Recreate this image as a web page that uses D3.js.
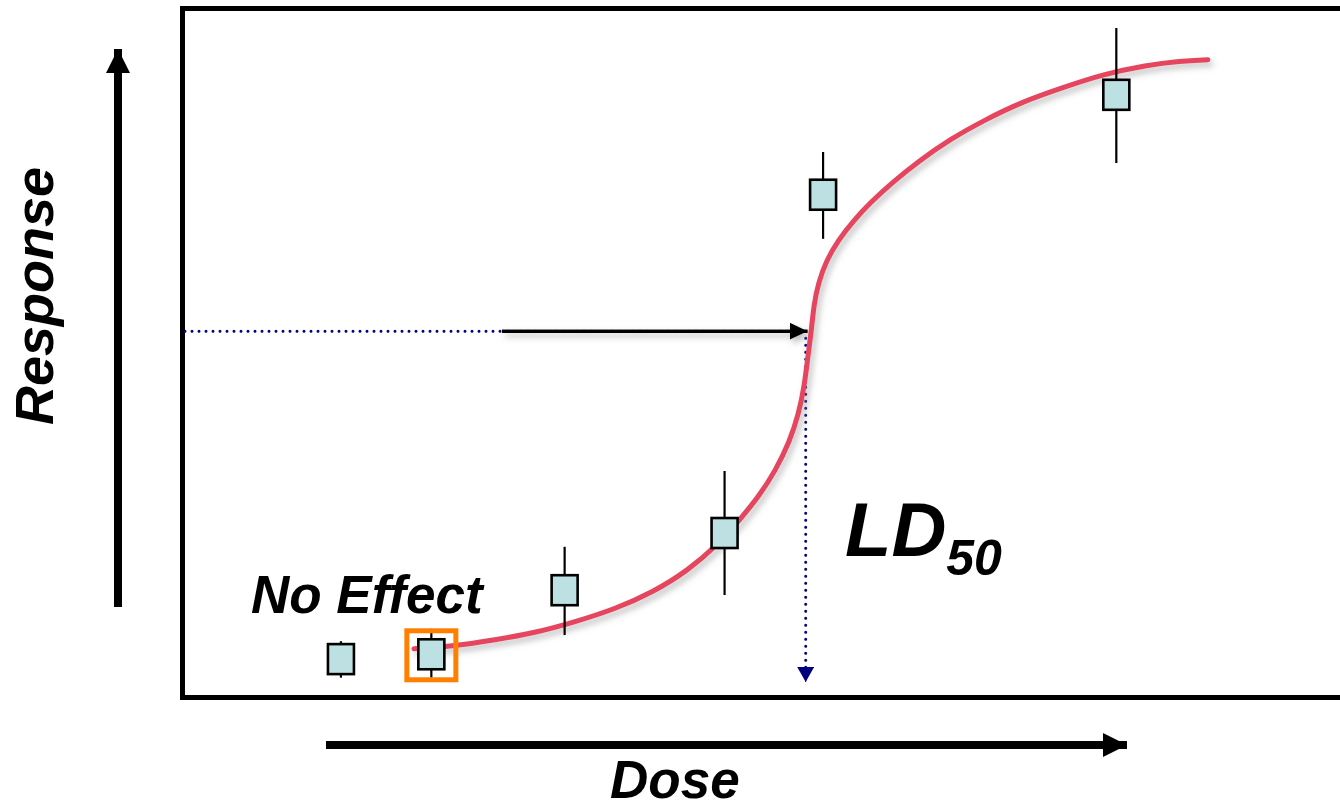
<!DOCTYPE html>
<html>
<head>
<meta charset="utf-8">
<script src="https://cdn.jsdelivr.net/npm/d3@7"></script>
<style>
  html, body { margin: 0; padding: 0; background: #ffffff; }
  svg { display: block; }
  text { font-family: "Liberation Sans", Arial, Helvetica, sans-serif; font-weight: bold; font-style: italic; fill: #000; }
</style>
</head>
<body>
<svg id="chart" width="1340" height="807"></svg>
<script>
// ---- data (dose and response in arbitrary % units) ----
const doseVals     = [13.8, 21.6, 33.1, 46.9, 55.4, 80.7];
const responseVals = [5.5, 6.2, 15.5, 23.8, 72.9, 87.4];
const errHigh      = [8.1, 9.9, 21.8, 32.8, 79.1, 97.1];
const errLow       = [2.8, 2.8, 9.0, 14.8, 66.5, 77.5];

const curveDose = [20.1, 23.6, 27.1, 30.5, 34.0, 37.5, 40.7, 43.7, 46.3, 48.2, 49.9, 51.3, 52.5, 53.3, 53.8, 54.1, 54.4, 54.6, 55.0, 55.7, 56.7, 58.0, 59.5, 61.4, 63.6, 66.4, 69.4, 72.6, 76.0, 79.6, 83.3, 86.2, 88.6];
const curveResp = [7.0, 7.4, 8.3, 9.3, 10.9, 12.8, 15.2, 18.3, 22.1, 25.7, 29.2, 32.9, 37.0, 41.1, 45.3, 49.6, 53.3, 56.9, 60.2, 63.4, 66.3, 69.1, 71.8, 74.7, 77.7, 81.0, 83.8, 86.4, 88.4, 90.4, 91.7, 92.3, 92.5];

const ld50Dose = 53.9;
const ld50Resp = 53.1;
const noEffectIndex = 1;

const xLabel = "Dose";
const yLabel = "Response";
const noEffectLabel = "No Effect";
const ldLabel = "LD";
const ldSub = "50";

// ---- layout ----
const svg = d3.select("#chart");
const x = d3.scaleLinear().domain([0, 100]).range([181, 1340]);
const y = d3.scaleLinear().domain([0, 100]).range([697, 8]);

const defs = svg.append("defs");
const sh = defs.append("filter").attr("id", "shadow")
  .attr("filterUnits", "userSpaceOnUse")
  .attr("x", 0).attr("y", 0).attr("width", 1340).attr("height", 807);
sh.append("feDropShadow").attr("dx", 3).attr("dy", 4).attr("stdDeviation", 3)
  .attr("flood-color", "#888").attr("flood-opacity", 0.55);

function arrowHead(id, color, w, h) {
  defs.append("marker").attr("id", id)
    .attr("viewBox", `0 0 ${w} ${h}`).attr("refX", w).attr("refY", h / 2)
    .attr("markerWidth", w).attr("markerHeight", h)
    .attr("markerUnits", "userSpaceOnUse").attr("orient", "auto")
    .append("path").attr("d", `M0,0L${w},${h/2}L0,${h}Z`).attr("fill", color);
}
arrowHead("bigHead", "#000", 24, 24);
arrowHead("smallHead", "#000", 18, 17);
arrowHead("navyHead", "#000080", 15, 17);

// frame
svg.append("rect")
  .attr("x", x(0) + 1.5).attr("y", y(100) + 0.5)
  .attr("width", x(100) - x(0) + 20).attr("height", y(0) - y(100))
  .attr("fill", "none").attr("stroke", "#000").attr("stroke-width", 5);

// big axis arrows
svg.append("line").attr("x1", 118).attr("y1", 607).attr("x2", 118).attr("y2", 49)
  .attr("stroke", "#000").attr("stroke-width", 8).attr("marker-end", "url(#bigHead)");
svg.append("line").attr("x1", 326).attr("y1", 745).attr("x2", 1127).attr("y2", 745)
  .attr("stroke", "#000").attr("stroke-width", 8).attr("marker-end", "url(#bigHead)");

// axis labels
svg.append("text").attr("x", 610).attr("y", 798).attr("font-size", 53).text(xLabel);
svg.append("text").attr("transform", "translate(53,425) rotate(-90)")
  .attr("font-size", 54).text(yLabel);

// dotted guide lines
svg.append("line")
  .attr("x1", x(0) + 4).attr("y1", y(ld50Resp)).attr("x2", x(ld50Dose)).attr("y2", y(ld50Resp))
  .attr("stroke", "#000080").attr("stroke-width", 3).attr("stroke-linecap", "round")
  .attr("stroke-dasharray", "0 7");
svg.append("line")
  .attr("x1", x(ld50Dose)).attr("y1", y(ld50Resp)).attr("x2", x(ld50Dose)).attr("y2", y(0) - 25)
  .attr("stroke", "#000080").attr("stroke-width", 3).attr("stroke-linecap", "round")
  .attr("stroke-dasharray", "0 7");
svg.append("line")
  .attr("x1", x(ld50Dose)).attr("y1", y(0) - 31).attr("x2", x(ld50Dose)).attr("y2", y(0) - 15)
  .attr("stroke", "#000080").attr("stroke-width", 1).attr("marker-end", "url(#navyHead)");

// solid arrow toward LD50
svg.append("line")
  .attr("x1", 502).attr("y1", y(ld50Resp)).attr("x2", x(ld50Dose) + 2).attr("y2", y(ld50Resp))
  .attr("stroke", "#000").attr("stroke-width", 3.5).attr("filter", "url(#shadow)")
  .attr("marker-end", "url(#smallHead)");

// fitted curve
const curvePts = curveDose.map((d, i) => [x(d), y(curveResp[i])]);
svg.append("path")
  .attr("d", d3.line().curve(d3.curveBasis)(curvePts))
  .attr("fill", "none").attr("stroke", "#e6445f").attr("stroke-width", 5)
  .attr("stroke-linecap", "round").attr("filter", "url(#shadow)");

// error bars and points
const pts = doseVals.map((d, i) => ({ d, r: responseVals[i], hi: errHigh[i], lo: errLow[i] }));
const g = svg.append("g");
g.selectAll("line.err").data(pts).join("line").attr("class", "err")
  .attr("x1", p => x(p.d)).attr("x2", p => x(p.d))
  .attr("y1", p => y(p.hi)).attr("y2", p => y(p.lo))
  .attr("stroke", "#000").attr("stroke-width", 2.2);
g.selectAll("rect.pt").data(pts).join("rect").attr("class", "pt")
  .attr("x", p => x(p.d) - 13).attr("y", p => y(p.r) - 15)
  .attr("width", 26).attr("height", 30)
  .attr("fill", "#bde0e3").attr("stroke", "#000").attr("stroke-width", 2.6);

// no-effect highlight
const ne = pts[noEffectIndex];
svg.append("rect")
  .attr("x", x(ne.d) - 24.5).attr("y", y(ne.r) - 23.5)
  .attr("width", 49).attr("height", 49)
  .attr("fill", "none").attr("stroke", "#ff8000").attr("stroke-width", 5);

svg.append("text").attr("x", 251).attr("y", 613).attr("font-size", 53).text(noEffectLabel);

// LD50 label
const ld = svg.append("text").attr("x", 845).attr("y", 556).attr("font-size", 76);
ld.append("tspan").text(ldLabel);
ld.append("tspan").attr("font-size", 50).attr("dy", 19).text(ldSub);
</script>
</body>
</html>
